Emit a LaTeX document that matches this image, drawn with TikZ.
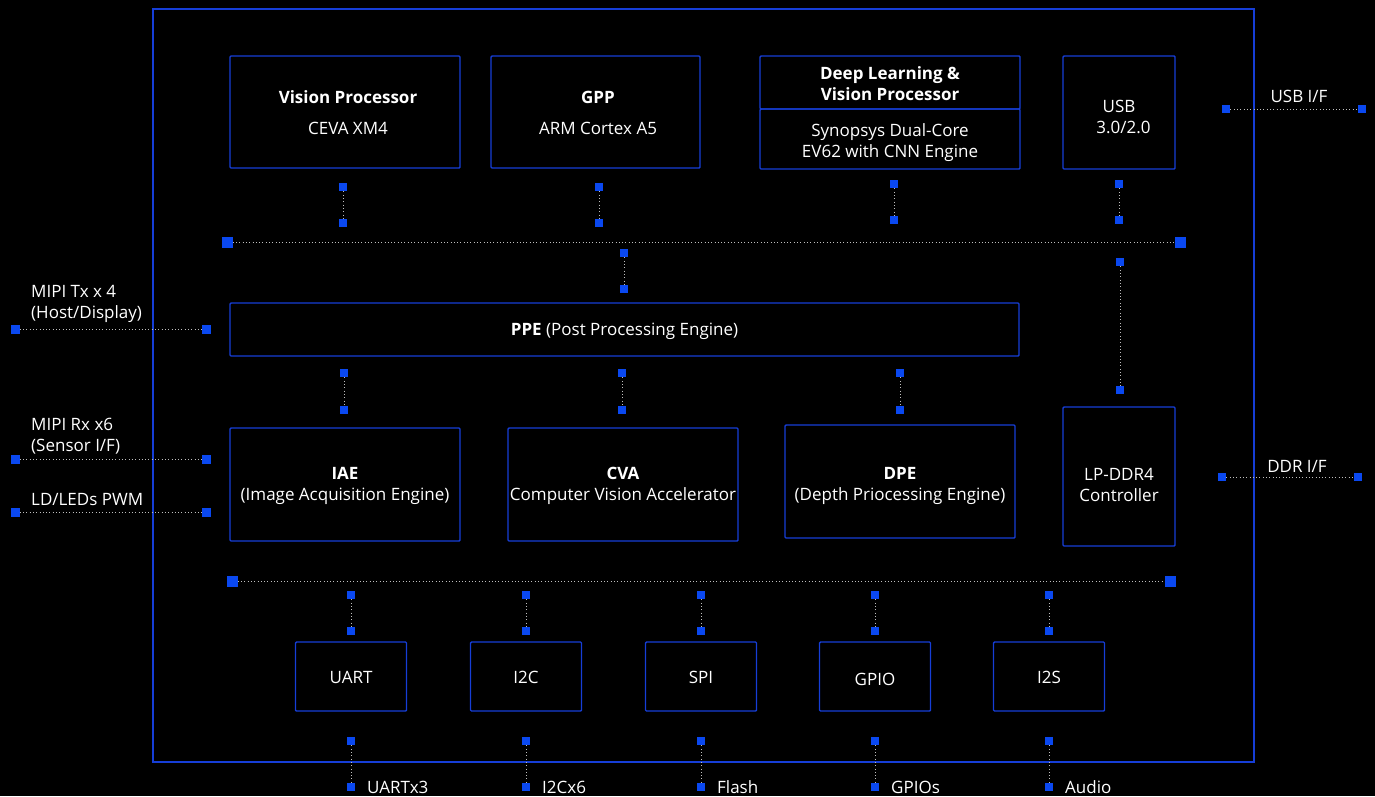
\documentclass[tikz,border=0pt]{standalone}
\usepackage{fontspec}
\setmainfont{Open Sans}
\usepackage{tikz}
\definecolor{bblue}{RGB}{22,62,215}
\definecolor{pblue}{RGB}{10,72,240}
\newcommand{\fs}{\fontsize{17}{21}\selectfont}

\begin{document}
\begin{tikzpicture}[x=1pt,y=-1pt,
    blk/.style={draw=bblue, line width=1.4pt, rounded corners=1pt, inner sep=0pt},
    txt/.style={text=white, align=center, font=\fs, inner sep=0pt},
    pin/.style={fill=pblue, minimum size=8.5pt, inner sep=0pt},
    bpin/.style={fill=pblue, minimum size=11pt, inner sep=0pt},
    dots/.style={draw=white!75!black, line width=1pt, dash pattern=on 1pt off 2.3pt},
    lbl/.style={text=white, font=\fs, inner sep=0pt}]
    \fill[black] (0,0) rectangle (1375,796);
    \draw[bblue, line width=1.3pt] (153,9) rectangle (1254,762);

    % processors
    \node[blk, minimum width=230, minimum height=112] (vp) at (345,112) {};
    \node[txt] (vpt) at (348,112.5) {\textbf{Vision Processor}\\[10pt]CEVA XM4};
    \node[blk, minimum width=209, minimum height=112] (gpp) at (595.5,112) {};
    \node[txt] (gppt) at (598,112.5) {\textbf{GPP}\\[10pt]ARM Cortex A5};
    \node[blk, minimum width=260, minimum height=53] (dlt) at (890,82.5) {};
    \node[txt] (dltt) at (890,83.5) {\textbf{Deep Learning \&}\\\textbf{Vision Processor}};
    \node[blk, minimum width=260, minimum height=60] (dlb) at (890,139) {};
    \node[txt] (dlbt) at (890,142.5) {Synopsys Dual-Core\\EV62 with CNN Engine};
    \node[blk, minimum width=112, minimum height=113] (usb) at (1119,112.5) {};
    \node[txt] (usbt) at (1119,117) {USB\\\ \ 3.0/2.0};

    \node[blk, minimum width=789, minimum height=53] (ppe) at (624.5,329.5) {};
    \node[txt] (ppet) at (624.5,331.5) {\textbf{PPE} (Post Processing Engine)};

    \node[blk, minimum width=230, minimum height=113] (iae) at (345,484.5) {};
    \node[txt] (iaet) at (345,485.5) {\textbf{IAE}\\(Image Acquisition Engine)};
    \node[blk, minimum width=230, minimum height=113] (cva) at (623,484.5) {};
    \node[txt] (cvat) at (623,485.5) {\textbf{CVA}\\Computer Vision Accelerator};
    \node[blk, minimum width=230, minimum height=113] (dpe) at (900,481.5) {};
    \node[txt] (dpet) at (900,485.5) {\textbf{DPE}\\(Depth Priocessing Engine)};
    \node[blk, minimum width=112, minimum height=139] (ddr) at (1119,476.5) {};
    \node[txt] (ddrt) at (1119,485) {LP-DDR4\\Controller};

    % peripherals
    \foreach \n/\x/\t/\e/\dy in {uart/351/UART/UARTx3/0, i2c/526/I2C/I2Cx6/0, spi/701/SPI/Flash/0, gpio/875/GPIO/GPIOs/2, i2s/1049/I2S/Audio/0} {
        \node[blk, minimum width=111, minimum height=69] (\n) at (\x,676.5) {};
        \node[txt] (\n t) at (\x,677+\dy) {\t};
        \node[pin] (\n a) at (\x,595) {};
        \node[pin] (\n b) at (\x,631) {};
        \node[pin] (\n c) at (\x,741) {};
        \node[pin] (\n d) at (\x,787) {};
        \node[lbl, anchor=west] (\n l) at (\x+16,787) {\e};
        \draw[dots] (\n a) -- (\n b);
        \draw[dots] (\n c) -- (\n d);
    }

    % buses
    \node[bpin] (tb1) at (227,242) {};
    \node[bpin] (tb2) at (1180,242) {};
    \node[bpin] (bb1) at (232,581) {};
    \node[bpin] (bb2) at (1170,581) {};
    \draw[dots] (tb1) -- (tb2);
    \draw[dots] (bb1) -- (bb2);

    \node[pin] (vpa) at (343,187) {};
    \node[pin] (vpb) at (343,223) {};
    \node[pin] (gppa) at (599,187) {};
    \node[pin] (gppb) at (599,223) {};
    \node[pin] (dla) at (894,184) {};
    \node[pin] (dlb2) at (894,220) {};
    \node[pin] (usba) at (1119,184) {};
    \node[pin] (usbb) at (1119,220) {};
    \node[pin] (ppea) at (624,253) {};
    \node[pin] (ppeb) at (624,289) {};
    \node[pin] (ddra) at (1120,262) {};
    \node[pin] (ddrb) at (1120,390) {};
    \node[pin] (iaea) at (344,373) {};
    \node[pin] (iaeb) at (344,410) {};
    \node[pin] (cvaa) at (622,373) {};
    \node[pin] (cvab) at (622,410) {};
    \node[pin] (dpea) at (900,373) {};
    \node[pin] (dpeb) at (900,410) {};
    \draw[dots] (vpa) -- (vpb);
    \draw[dots] (gppa) -- (gppb);
    \draw[dots] (dla) -- (dlb2);
    \draw[dots] (usba) -- (usbb);
    \draw[dots] (ppea) -- (ppeb);
    \draw[dots] (ddra) -- (ddrb);
    \draw[dots] (iaea) -- (iaeb);
    \draw[dots] (cvaa) -- (cvab);
    \draw[dots] (dpea) -- (dpeb);

    % external interfaces
    \node[pin, minimum size=9pt] (txa) at (15,329) {};
    \node[pin, minimum size=9pt] (txb) at (206,329) {};
    \node[pin, minimum size=9pt] (rxa) at (15,459) {};
    \node[pin, minimum size=9pt] (rxb) at (206,459) {};
    \node[pin, minimum size=9pt] (lda) at (15,512) {};
    \node[pin, minimum size=9pt] (ldb) at (206,512) {};
    \node[pin] (usbia) at (1226,109) {};
    \node[pin] (usbib) at (1362,109) {};
    \node[pin] (ddria) at (1222,477) {};
    \node[pin] (ddrib) at (1358,477) {};
    \draw[dots] (txa) -- (txb);
    \draw[dots] (rxa) -- (rxb);
    \draw[dots] (lda) -- (ldb);
    \draw[dots] (usbia) -- (usbib);
    \draw[dots] (ddria) -- (ddrib);
    \node[lbl, anchor=west, align=left] (txl) at (31,303.5) {MIPI Tx x 4\\(Host/Display)};
    \node[lbl, anchor=west, align=left] (rxl) at (31,436) {MIPI Rx x6\\(Sensor I/F)};
    \node[lbl, anchor=west] (ldl) at (31,499.5) {LD/LEDs PWM};
    \node[lbl] (usbl) at (1299,96.5) {USB I/F};
    \node[lbl] (ddrl) at (1297,466) {DDR I/F};
\end{tikzpicture}
\end{document}
